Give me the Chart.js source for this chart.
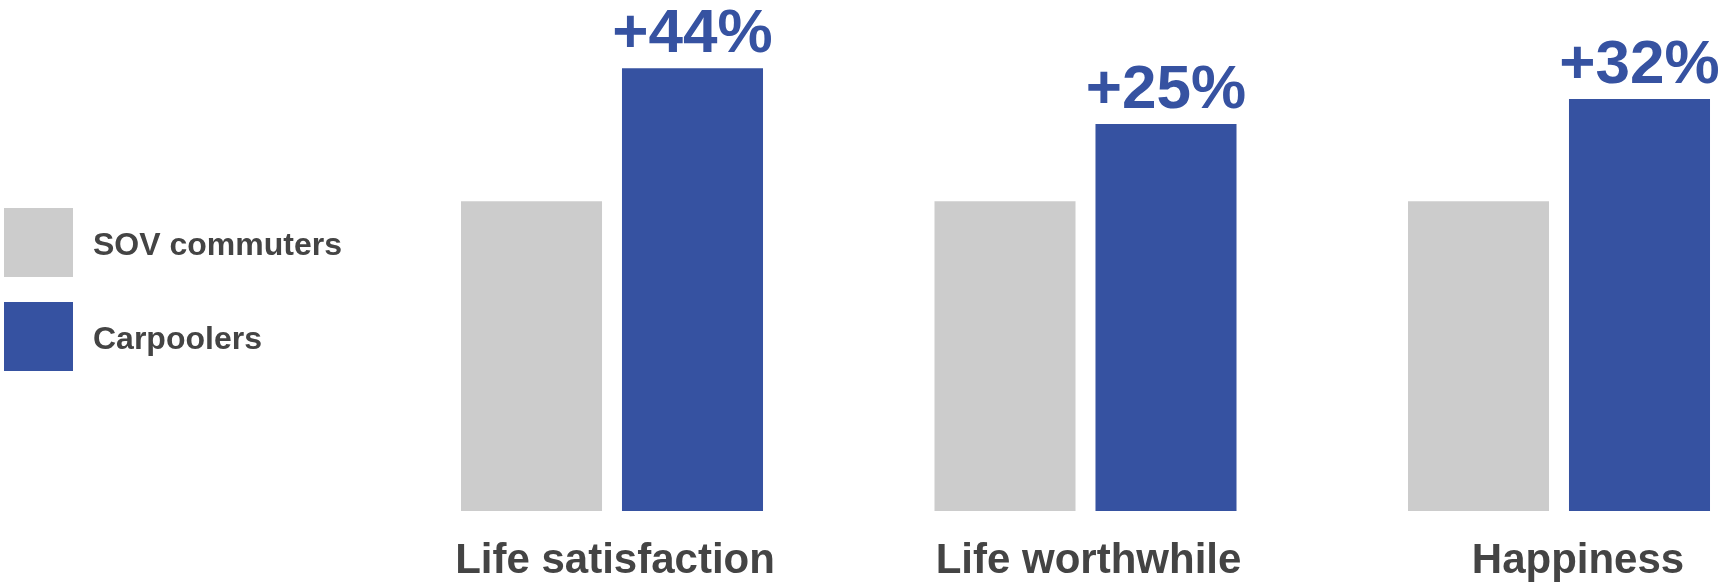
<!DOCTYPE html>
<html>
<head>
<meta charset="utf-8">
<script src="https://cdn.jsdelivr.net/npm/chart.js@4.4.1/dist/chart.umd.min.js"></script>
<style>
    html, body { margin: 0; padding: 0; background: #ffffff; overflow: hidden; }
    #wrap { width: 1723px; height: 582px; position: relative; }
</style>
</head>
<body>
<div id="wrap"><canvas id="carpoolChart"></canvas></div>
<script>
// values (SOV commuters = 100)
const categories = ['Life satisfaction', 'Life worthwhile', 'Happiness'];
const seriesNames = ['SOV commuters', 'Carpoolers'];
const sovValues = [100, 100, 100];
const carpoolValues = [143, 125, 133];
const changeLabels = ['+44%', '+25%', '+32%'];

const GREY = '#cccccc';
const BLUE = '#3652a1';
const TEXT = '#444444';
const FONT = "'Liberation Sans', Arial, Helvetica, sans-serif";

// legend drawn by hand on the left side
const sideLegend = {
    id: 'sideLegend',
    afterDraw(chart) {
        let ctx = chart.ctx;
        ctx.save();
        ctx.font = 'bold 32px ' + FONT;
        ctx.textBaseline = 'middle';
        chart.data.datasets.forEach(function (ds, i) {
            let top = 208 + i * 94;
            ctx.fillStyle = ds.backgroundColor;
            ctx.fillRect(4, top, 69, 69);
            ctx.fillStyle = TEXT;
            ctx.fillText(ds.label, 93, top + 38);
        });
        ctx.restore();
    }
};

// percent labels over the carpooler bars + category names under the groups
const barText = {
    id: 'barText',
    afterDatasetsDraw(chart) {
        let ctx = chart.ctx;
        let meta = chart.getDatasetMeta(1);
        let xScale = chart.scales.x;
        ctx.save();
        ctx.textAlign = 'center';
        ctx.textBaseline = 'alphabetic';
        ctx.fillStyle = BLUE;
        ctx.font = 'bold 62px ' + FONT;
        meta.data.forEach(function (bar, i) {
            ctx.fillText(changeLabels[i], bar.x, bar.y - 16);
        });
        ctx.fillStyle = TEXT;
        ctx.font = 'bold 42px ' + FONT;
        chart.data.labels.forEach(function (lab, i) {
            // last label sits a bit right of its group in the original
            let nudge = i === chart.data.labels.length - 1 ? 19 : 3;
            ctx.fillText(lab, xScale.getPixelForValue(i) + nudge, chart.chartArea.bottom + 62);
        });
        ctx.restore();
    }
};

function CarpoolChart(id) {
    const data = {
        labels: categories,
        datasets: [{
                label: seriesNames[0],
                data: sovValues,
                backgroundColor: GREY,
                clip: false
            }, {
                label: seriesNames[1],
                data: carpoolValues,
                backgroundColor: BLUE,
                clip: false
            }]
    };

    const config = {
        type: 'bar',
        data: data,
        options: {
            responsive: true,
            maintainAspectRatio: false,
            animation: false,
            categoryPercentage: 0.68,
            barPercentage: 0.876,
            layout: {
                padding: { left: 612, right: 164, top: 0, bottom: 71 }
            },
            plugins: {
                legend: { display: false },
                tooltip: { enabled: false }
            },
            scales: {
                x: {
                    display: false,
                    offset: false
                },
                y: {
                    display: false,
                    min: 0,
                    max: 165
                }
            }
        },
        plugins: [sideLegend, barText]
    };
    let ctx = document.getElementById(id).getContext("2d")
    new Chart(ctx, config)
}

CarpoolChart('carpoolChart');
</script>
</body>
</html>
